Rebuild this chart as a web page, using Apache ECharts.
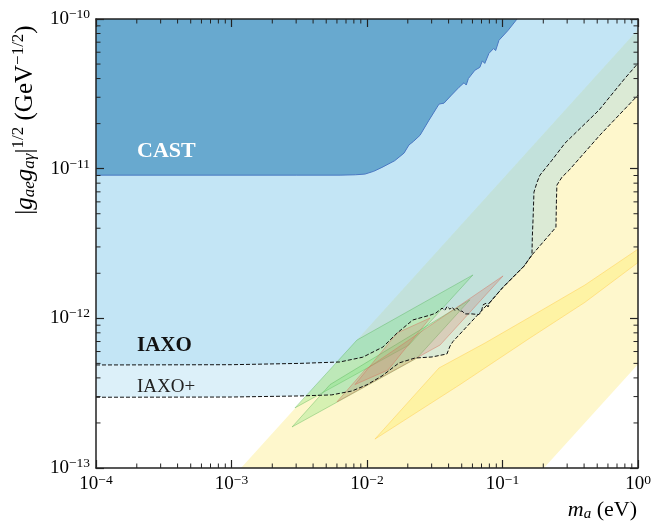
<!DOCTYPE html>
<html><head><meta charset="utf-8">
<script src="https://cdn.jsdelivr.net/npm/echarts@6/dist/echarts.min.js"></script>
<style>html,body{margin:0;padding:0;background:#fff}#c{width:664px;height:532px}</style>
</head><body><div id="c"></div>
<script>
// ---- data (m_a in eV, |g_ae g_ag|^1/2 in GeV^-1/2) ----
const xTickLabels = ['10^-4','10^-3','10^-2','10^-1','10^0'];
const yTickLabels = ['10^-13','10^-12','10^-11','10^-10'];
const castEdge = [[1e-4,9.05e-12],[3e-3,9.05e-12],[6.33e-3,9.05e-12],[8.2e-3,9.1e-12],[9.66e-3,9.2e-12],[1.12e-2,9.6e-12],[1.29e-2,1.02e-11],[1.6e-2,1.13e-11],[1.875e-2,1.27e-11],[2.04e-2,1.44e-11],[2.2e-2,1.52e-11],[2.46e-2,1.67e-11],[2.87e-2,2.11e-11],[3.40e-2,2.70e-11],[3.70e-2,2.74e-11],[4.2e-2,3.1e-11],[4.78e-2,3.50e-11],[5.2e-2,3.75e-11],[5.4e-2,3.62e-11],[5.6e-2,4.0e-11],[6.26e-2,4.55e-11],[6.8e-2,4.75e-11],[7.1e-2,5.25e-11],[7.4e-2,5.05e-11],[7.95e-2,5.9e-11],[8.6e-2,6.35e-11],[8.9e-2,6.15e-11],[9.42e-2,7.21e-11],[0.11,8.4e-11],[0.128,1e-10]];
const iaxoCurve = [[1e-4,4.88e-13],[1e-3,4.9e-13],[3.2e-3,5.0e-13],[6.3e-3,5.11e-13],[9.3e-3,5.5e-13],[1.31e-2,6.43e-13],[1.67e-2,7.98e-13],[2.18e-2,9.75e-13],[2.6e-2,1.02e-12],[2.92e-2,1.05e-12],[3.2e-2,1.08e-12],[3.58e-2,1.17e-12],[3.75e-2,1.13e-12],[3.9e-2,1.2e-12],[4.1e-2,1.15e-12],[4.24e-2,1.19e-12],[4.45e-2,1.13e-12],[4.62e-2,1.17e-12],[4.85e-2,1.11e-12],[5.02e-2,1.12e-12],[5.28e-2,1.07e-12],[5.95e-2,1.07e-12],[6.71e-2,1.06e-12],[7.0e-2,1.12e-12],[7.18e-2,1.23e-12],[7.55e-2,1.26e-12],[7.82e-2,1.19e-12],[8.09e-2,1.28e-12],[0.1,1.6e-12],[0.144,2.23e-12],[0.165,2.65e-12],[0.166,3.5e-12],[0.168,4.53e-12],[0.1707,6.97e-12],[0.180,8.12e-12],[0.189,9.05e-12],[0.232,1.14e-11],[0.289,1.48e-11],[0.515,2.46e-11],[0.802,4.02e-11],[1,5.06e-11]];
const iaxoPlusCurve = [[1e-4,2.97e-13],[1e-3,2.98e-13],[3.2e-3,3.03e-13],[5.5e-3,3.08e-13],[7.75e-3,3.27e-13],[1.0e-2,3.6e-13],[1.29e-2,4.12e-13],[1.72e-2,5.03e-13],[2.26e-2,5.43e-13],[3.02e-2,5.52e-13],[3.89e-2,5.78e-13],[4.1e-2,6.53e-13],[4.31e-2,7.0e-13],[7.69e-2,1.23e-12],[8.09e-2,1.28e-12],[0.1,1.6e-12],[0.144,2.23e-12],[0.165,2.65e-12],[0.248,4.06e-12],[0.250,6.0e-12],[0.252,7.76e-12],[0.275,8.78e-12],[0.31,9.77e-12],[0.525,1.68e-11],[1,3.10e-11]];
const qcdBand = [[1.175e-3,1e-13],[0.2023,1e-13],[1,4.94e-13],[1,8.5e-11]];
const dfszBand = [[1.145e-2,1.56e-13],[3.40e-2,4.66e-13],[7.43e-2,6.84e-13],[0.1596,1.02e-12],[0.406,1.67e-12],[1,2.90e-12],[1,2.36e-12],[0.406,1.28e-12],[0.1596,7.39e-13],[4.86e-2,3.61e-13]];
const hintGreenA = [[2.94e-3,2.52e-13],[8.43e-3,7.16e-13],[6.05e-2,1.95e-12],[2.04e-2,6.63e-13]];
const hintGreenB = [[2.80e-3,1.88e-13],[5.34e-3,3.61e-13],[5.75e-2,1.33e-12],[2.34e-2,5.43e-13]];
const hintRedA = [[6.01e-3,2.77e-13],[9.66e-3,4.52e-13],[0.1009,1.92e-12],[3.46e-2,6.63e-13]];
const hintRedB = [[8.15e-3,3.61e-13],[1.665e-2,7.98e-13],[2.92e-2,1.005e-12],[1.43e-2,4.52e-13]];

const X_MIN = 1e-4, X_MAX = 1, Y_MIN = 1e-13, Y_MAX = 1e-10;
const FONT = '"Liberation Serif", "Times New Roman", serif';

function regionAbove(curve){ return curve.concat([[X_MAX,Y_MAX],[X_MIN,Y_MAX]]); }

function polySeries(points, fill, stroke, lw){
  return {
    type:'custom', coordinateSystem:'cartesian2d', silent:true,
    data:[[1e-2,1e-12]],
    renderItem:function(params, api){
      return {type:'polygon', shape:{points:points.map(p=>api.coord(p))},
        style:{fill:fill, stroke:stroke||'none', lineWidth:lw||0}};
    }
  };
}
function lineSeries(points, color, width, type){
  return {type:'line', data:points, showSymbol:false, symbol:'none', silent:true,
    lineStyle:{color:color, width:width, type:type}, z:5, animation:false};
}

// minor ticks (2..9 per decade)
const minorX = [], minorY = [];
for (let e=-4;e<0;e++) for (let k=2;k<10;k++) minorX.push(k*Math.pow(10,e));
for (let e=-13;e<-10;e++) for (let k=2;k<10;k++) minorY.push(k*Math.pow(10,e));

const minorTicks = {
  type:'custom', coordinateSystem:'cartesian2d', silent:true, z:20,
  data:[[1e-2,1e-12]],
  renderItem:function(params, api){
    const ch=[]; const L=4.5; const st={stroke:'#222', lineWidth:1};
    const yb=api.coord([X_MIN,Y_MIN])[1], yt=api.coord([X_MIN,Y_MAX])[1];
    const xl=api.coord([X_MIN,Y_MIN])[0], xr=api.coord([X_MAX,Y_MIN])[0];
    minorX.forEach(v=>{ const x=api.coord([v,Y_MIN])[0];
      ch.push({type:'line',shape:{x1:x,y1:yb,x2:x,y2:yb-L},style:st});
      ch.push({type:'line',shape:{x1:x,y1:yt,x2:x,y2:yt+L},style:st}); });
    minorY.forEach(v=>{ const y=api.coord([X_MIN,v])[1];
      ch.push({type:'line',shape:{x1:xl,y1:y,x2:xl+L,y2:y},style:st});
      ch.push({type:'line',shape:{x1:xr,y1:y,x2:xr-L,y2:y},style:st}); });
    return {type:'group', children:ch};
  }
};

function expLabel(v){
  const e = Math.round(Math.log10(v));
  return '{b|10}{s|' + (e<0 ? '\u2212'+(-e) : String(e)) + '}';
}
const tickRich = {
  b:{fontFamily:FONT, fontSize:19, color:'#000'},
  s:{fontFamily:FONT, fontSize:13.5, color:'#000', padding:[0,0,9,0]}
};
const axisCommon = {
  type:'log', logBase:10, z:10,
  axisLine:{lineStyle:{color:'#222', width:1.5}},
  axisTick:{inside:true, length:8, lineStyle:{color:'#222', width:1.2}},
  splitLine:{show:false}, minorTick:{show:false}, minorSplitLine:{show:false}
};

const chart = echarts.init(document.getElementById('c'), null, {renderer:'canvas'});
const BLUE = 'rgba(133,203,233,0.29)';
chart.setOption({
  animation:false,
  grid:{left:96, right:26, top:19, bottom:64},
  xAxis:[
    Object.assign({}, axisCommon, {min:X_MIN, max:X_MAX, position:'bottom',
      axisLabel:{formatter:expLabel, rich:tickRich, margin:5}}),
    Object.assign({}, axisCommon, {min:X_MIN, max:X_MAX, position:'top', axisLabel:{show:false}})
  ],
  yAxis:[
    Object.assign({}, axisCommon, {min:Y_MIN, max:Y_MAX, position:'left',
      axisLabel:{formatter:expLabel, rich:tickRich, margin:6}}),
    Object.assign({}, axisCommon, {min:Y_MIN, max:Y_MAX, position:'right', axisLabel:{show:false}})
  ],
  series:[
    polySeries(qcdBand, '#fef7cc'),
    polySeries(regionAbove(iaxoPlusCurve), BLUE),
    polySeries(regionAbove(iaxoCurve), BLUE),
    polySeries(dfszBand, 'rgba(255,235,90,0.35)', 'rgba(255,210,90,0.55)', 1),
    polySeries(hintGreenA, 'rgba(110,225,110,0.28)', 'rgba(70,170,70,0.35)', 1),
    polySeries(hintGreenB, 'rgba(110,225,110,0.28)', 'rgba(70,170,70,0.35)', 1),
    polySeries(hintRedA, 'rgba(205,110,90,0.22)', 'rgba(215,110,90,0.45)', 1),
    polySeries(hintRedB, 'rgba(205,110,90,0.22)', 'rgba(215,110,90,0.45)', 1),
    polySeries(regionAbove(castEdge), '#68a9cf'),
    lineSeries(castEdge, '#4a78c2', 1, 'solid'),
    lineSeries(iaxoCurve, '#111', 1, [4,2]),
    lineSeries(iaxoPlusCurve, '#111', 1, [4,2]),
    minorTicks
  ],
  graphic:[
    {type:'text', x:25, y:120, rotation:Math.PI/2, z:100, style:{
      text:'{n||}{i|g}{sb|ae}{i|g}{sb|a\u03b3}{n||}{sp|1/2}{n| (GeV}{sp|\u22121/2}{n|)}',
      align:'center', verticalAlign:'middle', textAlign:'center', textVerticalAlign:'middle',
      rich:{
        n:{fontFamily:FONT, fontSize:25, color:'#000'},
        i:{fontFamily:FONT, fontSize:25, fontStyle:'italic', color:'#000'},
        sb:{fontFamily:FONT, fontSize:17, fontStyle:'italic', color:'#000', padding:[10,0,0,0]},
        sp:{fontFamily:FONT, fontSize:17, color:'#000', padding:[0,0,12,0]}
      }}},
    {type:'text', x:637, y:510, z:100, style:{
      text:'{i|m}{sb|a}{n| (eV)}',
      align:'right', verticalAlign:'middle', textAlign:'right', textVerticalAlign:'middle',
      rich:{
        n:{fontFamily:FONT, fontSize:22, color:'#000'},
        i:{fontFamily:FONT, fontSize:22, fontStyle:'italic', color:'#000'},
        sb:{fontFamily:FONT, fontSize:15, fontStyle:'italic', color:'#000', padding:[9,0,0,0]}
      }}},
    {type:'text', x:137, y:151, z:100, style:{text:'CAST', fill:'#fff',
      font:'bold 22px ' + FONT, align:'left', verticalAlign:'middle', textAlign:'left', textVerticalAlign:'middle'}},
    {type:'text', x:137, y:346, z:100, style:{text:'IAXO', fill:'#111',
      font:'bold 21px ' + FONT, align:'left', verticalAlign:'middle', textAlign:'left', textVerticalAlign:'middle'}},
    {type:'text', x:137, y:387, z:100, style:{text:'IAXO+', fill:'#222',
      font:'19px ' + FONT, align:'left', verticalAlign:'middle', textAlign:'left', textVerticalAlign:'middle'}}
  ]
});
</script></body></html>
